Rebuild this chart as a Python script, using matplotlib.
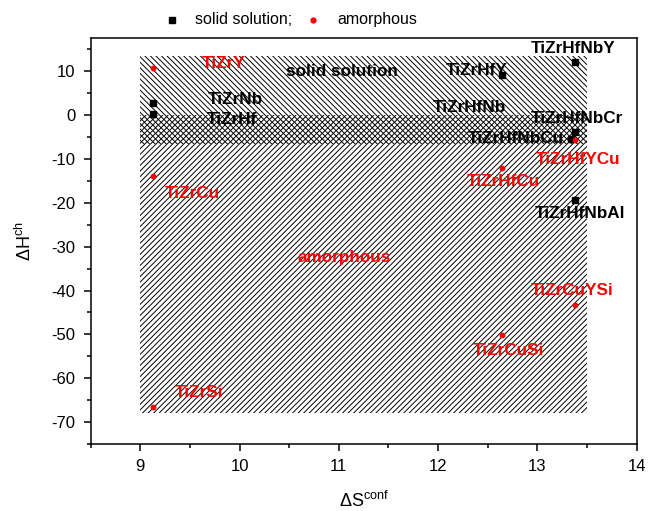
import matplotlib
matplotlib.use("Agg")
import matplotlib.pyplot as plt
from matplotlib.patches import Rectangle
from matplotlib.lines import Line2D
from matplotlib.ticker import MultipleLocator

plt.rcParams['font.family'] = ['Liberation Sans', 'DejaVu Sans']
plt.rcParams['mathtext.default'] = 'regular'
plt.rcParams['axes.unicode_minus'] = False
plt.rcParams['hatch.linewidth'] = 0.7

# solid solution (black squares)
ss_names = ["TiZrNb", "TiZrHf", "TiZrHfY", "TiZrHfNbY", "TiZrHfNbCr", "TiZrHfNbCu", "TiZrHfNbAl"]
ss_x = [9.13, 9.13, 12.64, 13.38, 13.38, 13.34, 13.38]
ss_y = [2.7, 0.2, 9.1, 12.0, -3.8, -5.5, -19.3]

# amorphous (red circles)
am_names = ["TiZrY", "TiZrCu", "TiZrSi", "TiZrHfCu", "TiZrHfYCu", "TiZrCuYSi", "TiZrCuSi"]
am_x = [9.13, 9.13, 9.13, 12.64, 13.38, 13.38, 12.64]
am_y = [10.8, -14.0, -66.6, -12.1, -5.7, -43.4, -50.2]

# region extents (x0, x1, y0, y1)
ss_region = (9.0, 13.5, -6.5, 13.5)
am_region = (9.0, 13.5, -68.0, 0.0)

# label text anchors (centre)
ss_lab_x = [9.96, 9.92, 12.39, 13.36, 13.40, 12.78, 13.43]
ss_lab_y = [3.6, -1.0, 10.2, 15.2, -0.75, -5.3, -22.4]
am_lab_x = [9.84, 9.52, 9.59, 12.66, 13.41, 13.35, 12.71]
am_lab_y = [11.8, -17.8, -63.2, -15.2, -10.1, -40.0, -53.6]
extra_names = ["TiZrHfNb"]
extra_x = [12.31]
extra_y = [1.75]

fig = plt.figure(figsize=(6.5, 5.11), dpi=100)
ax = fig.add_axes([0.1395, 0.1311, 0.84, 0.7939])

x0, x1, y0, y1 = am_region
ax.add_patch(Rectangle((x0, y0), x1 - x0, y1 - y0, fill=False, hatch='//////',
                       edgecolor='black', linewidth=0, zorder=1))
x0, x1, y0, y1 = ss_region
ax.add_patch(Rectangle((x0, y0), x1 - x0, y1 - y0, fill=False, hatch='\\\\\\\\\\\\',
                       edgecolor='black', linewidth=0, zorder=1))

ax.plot(ss_x, ss_y, linestyle='none', marker='s', color='black', markersize=3.8, zorder=3)
ax.plot(am_x, am_y, linestyle='none', marker='o', color='red', markersize=4.2,
        markeredgewidth=0, zorder=3)

fs = 12.3
for n, x, y in zip(ss_names, ss_lab_x, ss_lab_y):
    ax.text(x, y, n, color='black', fontsize=fs, fontweight='bold', ha='center', va='center', zorder=4)
for n, x, y in zip(extra_names, extra_x, extra_y):
    ax.text(x, y, n, color='black', fontsize=fs, fontweight='bold', ha='center', va='center', zorder=4)
for n, x, y in zip(am_names, am_lab_x, am_lab_y):
    ax.text(x, y, n, color='red', fontsize=fs, fontweight='bold', ha='center', va='center', zorder=4)

ax.text(11.03, 10.0, "solid solution", color='black', fontsize=fs, fontweight='bold', ha='center', va='center', zorder=4)
ax.text(11.05, -32.5, "amorphous", color='red', fontsize=fs, fontweight='bold', ha='center', va='center', zorder=4)

ax.set_xlim(8.5, 14)
ax.set_ylim(-75, 17.5)
ax.xaxis.set_major_locator(MultipleLocator(1))
ax.xaxis.set_minor_locator(MultipleLocator(0.5))
ax.yaxis.set_major_locator(MultipleLocator(10))
ax.yaxis.set_minor_locator(MultipleLocator(5))
ax.tick_params(which='major', direction='out', length=5, width=1.1, labelsize=12, pad=6)
ax.tick_params(which='minor', direction='out', length=3, width=1.1)
ax.tick_params(top=False, right=False, which='both')
for s in ax.spines.values():
    s.set_linewidth(1.1)

ax.set_xlabel(r'ΔS$^{conf}$', fontsize=13, labelpad=12)
ax.set_ylabel(r'ΔH$^{ch}$', fontsize=13, labelpad=12)

# legend drawn above the axes
fig.add_artist(Line2D([172 / 650], [1 - 20 / 511], transform=fig.transFigure, linestyle='none',
                      marker='s', color='black', markersize=4.2))
fig.text(195 / 650, 1 - 19 / 511, "solid solution;", fontsize=11.5, ha='left', va='center')
fig.add_artist(Line2D([313 / 650], [1 - 20 / 511], transform=fig.transFigure, linestyle='none',
                      marker='o', color='red', markersize=4.5, markeredgewidth=0))
fig.text(337 / 650, 1 - 19 / 511, "amorphous", fontsize=11.5, ha='left', va='center')

fig.savefig("out.png", dpi=100)
